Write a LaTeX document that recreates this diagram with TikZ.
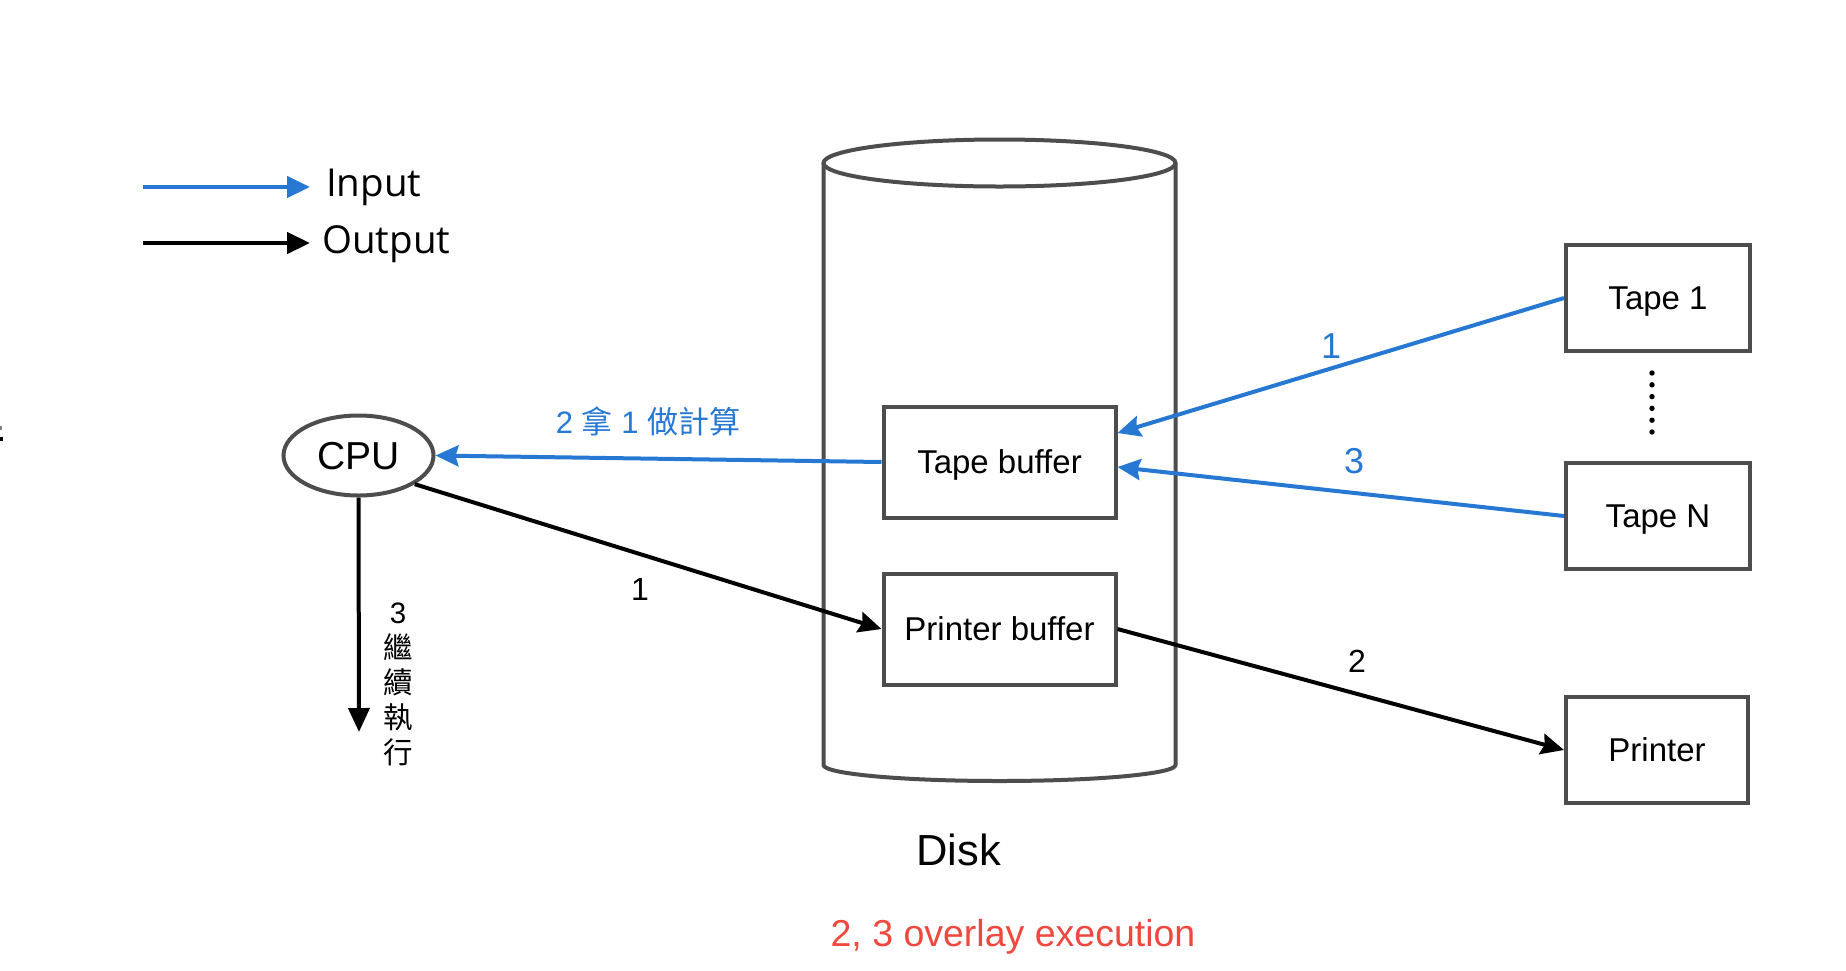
\documentclass[tikz,border=0pt]{standalone}
\usepackage{fontspec}
\setmainfont{Liberation Sans}
\newfontfamily\cjk{Noto Sans CJK TC}
\newfontfamily\legfont{Open Sans}
\usetikzlibrary{arrows.meta,shapes.geometric}
\definecolor{inblue}{RGB}{38,120,210}
\definecolor{boxgray}{RGB}{77,77,77}
\definecolor{redtxt}{RGB}{240,72,62}
\begin{document}
\begin{tikzpicture}[x=1pt,y=-1pt,
  box/.style={draw=boxgray,line width=4pt,fill=white,minimum width=232pt,minimum height=111pt,inner sep=0pt,text depth=0pt,font=\fontsize{33}{38}\selectfont},
  devbox/.style={box,minimum width=184pt,minimum height=106pt},
  inline/.style={draw=inblue,line width=4pt,-{Stealth[length=23pt,width=21pt,inset=3pt]}},
  outline/.style={draw=black,line width=4pt,-{Stealth[length=23pt,width=21pt,inset=3pt]}},
  legarrow/.style={line width=4.5pt,-{Triangle[length=23pt,width=21pt]}},
  lbl/.style={inner sep=0pt,font=\fontsize{31}{36}\selectfont}]
\useasboundingbox (0,0) rectangle (1846,970);
\fill[white] (0,0) rectangle (1846,970);
% tiny marks at left edge
\fill[gray] (0,426) rectangle (2,430);
\fill[black] (0,437) rectangle (3,441);
% legend
\coordinate (li1) at (143,187);
\coordinate (li2) at (310,187);
\coordinate (lo1) at (143,243);
\coordinate (lo2) at (310,243);
\draw[legarrow,draw=inblue] (li1) -- (li2);
\draw[legarrow,draw=black] (lo1) -- (lo2);
\node[anchor=base west,inner sep=0pt,font=\legfont\fontsize{38.5}{44}\selectfont] (legin) at (326,196) {Input};
\node[anchor=base west,inner sep=0pt,font=\legfont\fontsize{38.5}{44}\selectfont] (legout) at (322,253) {Output};
% cylinder (disk)
\draw[boxgray,line width=4pt] (999.5,163) ellipse [x radius=176, y radius=23.5];
\draw[boxgray,line width=4pt,line join=round] (823.5,163) -- (823.5,765)
  .. controls (823.5,773.8) and (902.3,781) .. (999.5,781)
  .. controls (1096.7,781) and (1175.5,773.8) .. (1175.5,765) -- (1175.5,163);
\node[anchor=base,inner sep=0pt,font=\fontsize{43.5}{50}\selectfont] (disk) at (958.5,865) {Disk};
\node[anchor=base,inner sep=0pt,text=redtxt,font=\fontsize{37.5}{44}\selectfont] (note) at (1013,946) {2, 3 overlay execution};
% boxes
\node[box] (tbuf) at (999.5,462) {Tape buffer};
\node[box] (pbuf) at (999.5,629) {Printer buffer};
\node[devbox] (tape1) at (1658,298) {Tape 1};
\node[devbox] (tapen) at (1658,516) {Tape N};
\node[devbox,minimum width=182pt] (printer) at (1657,750) {Printer};
\foreach \i in {0,...,5} \fill (1652,373+11.8*\i) circle (2.7pt);
% CPU
\node[ellipse,draw=boxgray,line width=4pt,minimum width=150pt,minimum height=80pt,inner sep=0pt,font=\fontsize{39}{45}\selectfont,text depth=0pt] (cpu) at (358.5,455.5) {CPU};
\coordinate (cpuend) at (359,732);
% connectors
\draw[inline] (tape1.west) -- ([yshift=29pt]tbuf.east);
\draw[inline] (tapen.west) -- ([yshift=-5pt]tbuf.east);
\draw[inline] (tbuf.west) -- (cpu.east);
\draw[outline] (cpu.-27) -- (pbuf.west);
\draw[outline] (pbuf.east) -- (printer.west);
\draw[line width=4pt,-{Triangle[length=24pt,width=21pt]}] (cpu.south) -- (cpuend);
% labels
\node[lbl,text=inblue,font=\fontsize{36}{40}\selectfont] (l1) at (1331,346) {1};
\node[lbl,text=inblue,font=\fontsize{36}{40}\selectfont] (l3) at (1354,461) {3};
\node[lbl,text=inblue] (l2) at (648,421) {2 {\cjk 拿} 1 {\cjk 做計算}};
\node[lbl,font=\fontsize{32}{36}\selectfont] (lo1t) at (640,589) {1};
\node[lbl,font=\fontsize{32}{36}\selectfont] (lo2t) at (1357,661) {2};
\node[lbl,align=center,font=\fontsize{29.5}{35}\selectfont] (l3v) at (398,684) {3\\{\cjk 繼}\\{\cjk 續}\\{\cjk 執}\\{\cjk 行}};
\end{tikzpicture}
\end{document}
